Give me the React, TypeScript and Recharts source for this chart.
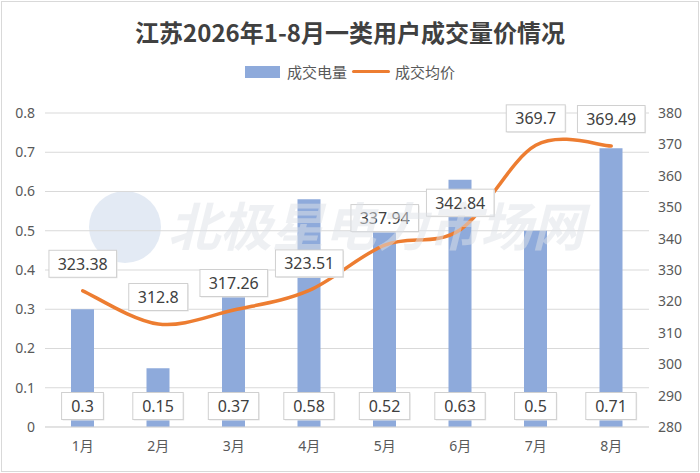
import React from "react";
import {
  ComposedChart,
  Bar,
  Line,
  XAxis,
  YAxis,
  CartesianGrid,
  LabelList,
} from "recharts";

// 月份
const months = ["1月", "2月", "3月", "4月", "5月", "6月", "7月", "8月"];
// 成交电量
const volume = [0.3, 0.15, 0.37, 0.58, 0.52, 0.63, 0.5, 0.71];
// 成交均价
const price = [323.38, 312.8, 317.26, 323.51, 337.94, 342.84, 369.7, 369.49];

const leftTicks = [0, 0.1, 0.2, 0.3, 0.4, 0.5, 0.6, 0.7, 0.8];
const rightTicks = [280, 290, 300, 310, 320, 330, 340, 350, 360, 370, 380];

const data = months.map((m, i) => ({ month: m, volume: volume[i], price: price[i] }));

const FONT = '"Noto Sans", "Noto Sans CJK SC", sans-serif';
const CJK = '"Noto Sans CJK SC", sans-serif';
const BAR = "#8eaadb";
const LINE = "#ed7d31";

// Excel 风格的平滑曲线（Catmull-Rom）
function smoothCurve(context: any) {
  let pts: number[][] = [];
  return {
    areaStart() {},
    areaEnd() {},
    lineStart() {
      pts = [];
    },
    lineEnd() {
      if (!pts.length) return;
      context.moveTo(pts[0][0], pts[0][1]);
      for (let i = 0; i < pts.length - 1; i++) {
        const p0 = pts[i - 1] || pts[i];
        const p1 = pts[i];
        const p2 = pts[i + 1];
        const p3 = pts[i + 2] || p2;
        context.bezierCurveTo(
          p1[0] + (p2[0] - p0[0]) / 6,
          p1[1] + (p2[1] - p0[1]) / 6,
          p2[0] - (p3[0] - p1[0]) / 6,
          p2[1] - (p3[1] - p1[1]) / 6,
          p2[0],
          p2[1]
        );
      }
    },
    point(x: number, y: number) {
      pts.push([+x, +y]);
    },
  };
}

function Box({ cx, cy, text }: { cx: number; cy: number; text: string }) {
  const w = text.length * 8.6 + 16;
  const h = 27;
  return (
    <g>
      <rect x={cx - w / 2 + 1} y={cy - h / 2 + 1} width={w} height={h} fill="#e8e8e8" />
      <rect
        x={cx - w / 2}
        y={cy - h / 2}
        width={w}
        height={h}
        fill="#fff"
        stroke="#d0d0d0"
        strokeWidth={1}
      />
      <text
        x={cx}
        y={cy}
        textAnchor="middle"
        dominantBaseline="central"
        fontSize={16}
        fontFamily={FONT}
        fill="#404040"
      >
        {text}
      </text>
    </g>
  );
}

const barLabel = (p: any) => {
  const cx = p.x + p.width / 2;
  const base = p.y + p.height;
  return <Box cx={cx} cy={base - 21} text={String(p.value)} />;
};

const lineLabel = (p: any) => <Box cx={p.x} cy={p.y - 27} text={String(p.value)} />;

export default function App() {
  return (
    <div
      style={{
        position: "absolute",
        left: 0,
        top: 0,
        width: 700,
        height: 473,
        background: "#fff",
        fontFamily: FONT,
      }}
    >
      <div
        style={{
          position: "absolute",
          left: 1,
          top: 1,
          width: 696,
          height: 469,
          border: "1px solid #d9d9d9",
        }}
      />
      <div
        style={{
          position: "absolute",
          top: 14,
          width: 700,
          textAlign: "center",
          fontSize: 24,
          fontWeight: "bold",
          color: "#404040",
          fontFamily: CJK,
        }}
      >
        江苏2026年1-8月一类用户成交量价情况
      </div>
      <div
        style={{
          position: "absolute",
          top: 61,
          width: 700,
          display: "flex",
          justifyContent: "center",
          alignItems: "center",
          fontSize: 15,
          color: "#595959",
          fontFamily: CJK,
        }}
      >
        <span style={{ width: 35, height: 12, background: BAR, marginRight: 7 }} />
        <span>成交电量</span>
        <span style={{ width: 38, height: 3, background: LINE, margin: "0 5px 0 5px", borderRadius: 2 }} />
        <span>成交均价</span>
      </div>
      <svg
        width={700}
        height={473}
        style={{ position: "absolute", left: 0, top: 0 }}
      >
        <circle cx={125} cy={227} r={36} fill="#e3eaf4" />
      </svg>
      <ComposedChart
        width={700}
        height={473}
        data={data}
        margin={{ top: 113, right: 0, bottom: 0, left: 0 }}
        style={{ position: "absolute", left: 0, top: 0 }}
      >
        <CartesianGrid yAxisId="left" vertical={false} stroke="#d9d9d9" />
        <XAxis
          dataKey="month"
          height={46}
          axisLine={{ stroke: "#d9d9d9" }}
          tickLine={false}
          tickSize={0}
          tickMargin={14}
          tick={{ fontSize: 14, fill: "#595959", fontFamily: FONT }}
        />
        <YAxis
          yAxisId="left"
          width={45}
          domain={[0, 0.8]}
          ticks={leftTicks}
          axisLine={false}
          tickLine={false}
          tickSize={0}
          tickMargin={10}
          tick={{ fontSize: 14, fill: "#595959", fontFamily: FONT }}
        />
        <YAxis
          yAxisId="right"
          orientation="right"
          width={51}
          domain={[280, 380]}
          ticks={rightTicks}
          axisLine={false}
          tickLine={false}
          tickSize={0}
          tickMargin={9}
          tick={{ fontSize: 14, fill: "#595959", fontFamily: FONT }}
        />
        <Bar yAxisId="left" dataKey="volume" fill={BAR} barSize={23} isAnimationActive={false}>
          <LabelList dataKey="volume" content={barLabel} />
        </Bar>
        <Line
          yAxisId="right"
          dataKey="price"
          type={smoothCurve as any}
          stroke={LINE}
          strokeWidth={3.5}
          strokeLinecap="round"
          dot={false}
          activeDot={false}
          isAnimationActive={false}
        >
          <LabelList dataKey="price" content={lineLabel} />
        </Line>
      </ComposedChart>
      <div
        style={{
          position: "absolute",
          left: 168,
          top: 198,
          fontSize: 52,
          lineHeight: "52px",
          fontWeight: "bold",
          fontStyle: "italic",
          color: "rgba(222,226,232,0.5)",
          fontFamily: CJK,
          pointerEvents: "none",
          whiteSpace: "nowrap",
        }}
      >
        北极星电力市场网
      </div>
    </div>
  );
}
